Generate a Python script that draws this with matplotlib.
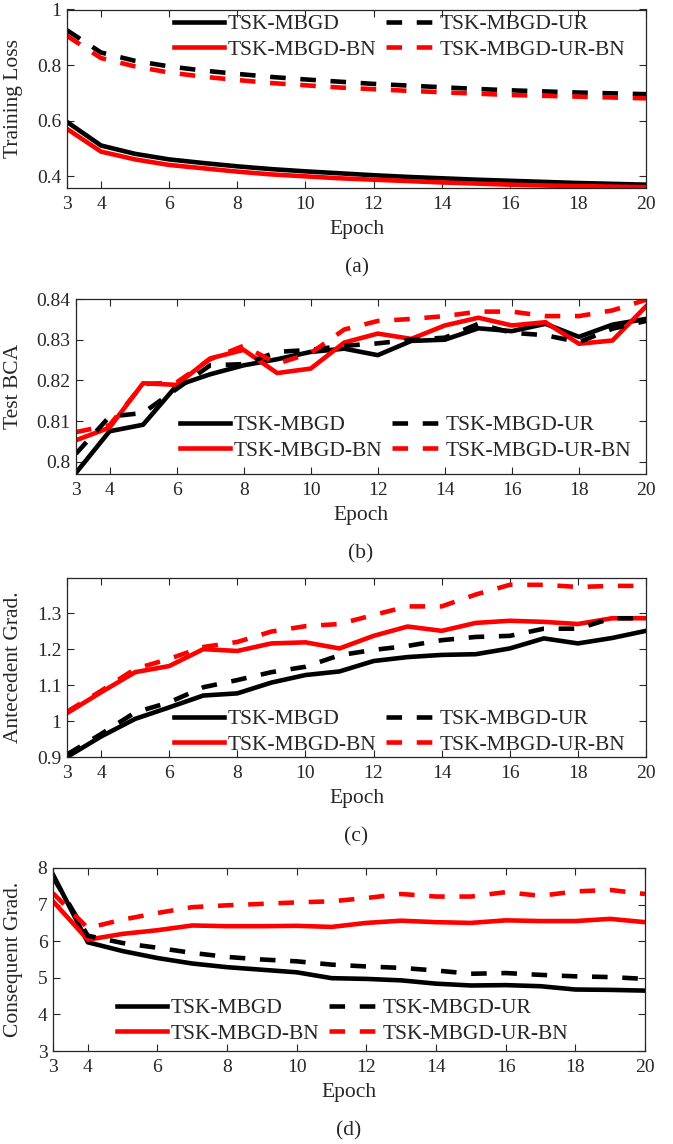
import matplotlib
matplotlib.use('Agg')
import matplotlib.pyplot as plt
import matplotlib.transforms as mtransforms

plt.rcParams['font.family'] = ['Liberation Serif', 'DejaVu Serif']
plt.rcParams['axes.edgecolor'] = '#262626'
plt.rcParams['xtick.color'] = '#262626'
plt.rcParams['ytick.color'] = '#262626'
plt.rcParams['text.color'] = '#262626'
plt.rcParams['axes.labelcolor'] = '#262626'

# Datos
epochs = list(range(3, 21))
labels = ['TSK-MBGD', 'TSK-MBGD-BN', 'TSK-MBGD-UR', 'TSK-MBGD-UR-BN']

# (a) Training loss
loss_mbgd = [0.595, 0.51, 0.48, 0.46, 0.447, 0.435, 0.425, 0.417, 0.41, 0.403,
             0.397, 0.392, 0.387, 0.383, 0.379, 0.375, 0.372, 0.369]
loss_bn = [0.57, 0.488, 0.46, 0.44, 0.428, 0.416, 0.406, 0.399, 0.392, 0.387,
           0.382, 0.377, 0.373, 0.369, 0.366, 0.364, 0.362, 0.36]
loss_ur = [0.925, 0.845, 0.815, 0.795, 0.78, 0.768, 0.757, 0.748, 0.74, 0.732,
           0.726, 0.72, 0.714, 0.709, 0.705, 0.701, 0.698, 0.695]
loss_urbn = [0.905, 0.825, 0.795, 0.773, 0.758, 0.746, 0.735, 0.727, 0.719, 0.713,
             0.707, 0.702, 0.697, 0.692, 0.689, 0.686, 0.683, 0.68]

# (b) Test BCA
bca_mbgd = [0.7973, 0.8075, 0.8091, 0.8187, 0.8215, 0.8237, 0.8252, 0.827, 0.8278, 0.8262,
            0.8297, 0.830, 0.8328, 0.8321, 0.8339, 0.8307, 0.8337, 0.8351]
bca_bn = [0.8053, 0.8084, 0.8193, 0.8189, 0.8254, 0.8275, 0.8218, 0.8229, 0.8293, 0.8315,
          0.8302, 0.8335, 0.8354, 0.8335, 0.8343, 0.829, 0.8298, 0.8382]
bca_ur = [0.802, 0.8111, 0.812, 0.8179, 0.8237, 0.824, 0.827, 0.8275, 0.8285, 0.8291,
          0.830, 0.8305, 0.8339, 0.8317, 0.8311, 0.8294, 0.8327, 0.8346]
bca_urbn = [0.8073, 0.809, 0.8191, 0.8195, 0.8252, 0.8285, 0.8241, 0.8267, 0.8325, 0.8346,
            0.8351, 0.8358, 0.8369, 0.8369, 0.8358, 0.8358, 0.8372, 0.8398]

# (c) Antecedent grad
ant_mbgd = [0.9, 0.957, 1.006, 1.038, 1.071, 1.077, 1.107, 1.128, 1.138, 1.167,
            1.178, 1.184, 1.186, 1.202, 1.23, 1.216, 1.231, 1.251]
ant_bn = [1.022, 1.08, 1.136, 1.153, 1.2, 1.195, 1.216, 1.219, 1.202, 1.237,
          1.263, 1.251, 1.273, 1.279, 1.276, 1.27, 1.286, 1.286]
ant_ur = [0.907, 0.964, 1.024, 1.052, 1.094, 1.114, 1.136, 1.151, 1.183, 1.198,
          1.209, 1.225, 1.234, 1.237, 1.257, 1.257, 1.286, 1.286]
ant_urbn = [1.026, 1.084, 1.145, 1.173, 1.206, 1.22, 1.249, 1.264, 1.27, 1.295,
            1.319, 1.319, 1.352, 1.379, 1.379, 1.373, 1.376, 1.376]

# (d) Consequent grad
con_mbgd = [7.82, 5.97, 5.73, 5.54, 5.39, 5.29, 5.22, 5.15, 4.99, 4.97,
            4.93, 4.84, 4.79, 4.80, 4.77, 4.68, 4.67, 4.65]
con_bn = [7.09, 6.04, 6.20, 6.30, 6.43, 6.41, 6.41, 6.42, 6.39, 6.50,
          6.56, 6.52, 6.50, 6.57, 6.55, 6.55, 6.61, 6.52]
con_ur = [7.75, 6.15, 5.95, 5.82, 5.68, 5.57, 5.50, 5.45, 5.36, 5.31,
          5.27, 5.20, 5.11, 5.13, 5.08, 5.04, 5.02, 4.97]
con_urbn = [7.31, 6.36, 6.59, 6.77, 6.93, 6.98, 7.02, 7.06, 7.09, 7.18,
            7.29, 7.22, 7.22, 7.34, 7.24, 7.36, 7.40, 7.29]

W, H = 673, 1144
fig = plt.figure(figsize=(W / 100, H / 100), dpi=100)

# caja (izq, der, arriba, abajo) en pixeles; leyenda (x, arriba)
paneles = [
    dict(box=(67, 646, 9.5, 188), data=(loss_mbgd, loss_bn, loss_ur, loss_urbn),
         ylim=(0.357, 1.0), yticks=[0.4, 0.6, 0.8, 1.0], ytl=['0.4', '0.6', '0.8', '1'],
         ylabel='Training Loss', leg=(174, 14), cap='(a)'),
    dict(box=(76, 646, 299, 474), data=(bca_mbgd, bca_bn, bca_ur, bca_urbn),
         ylim=(0.797, 0.84), yticks=[0.8, 0.81, 0.82, 0.83, 0.84],
         ytl=['0.8', '0.81', '0.82', '0.83', '0.84'],
         ylabel='Test BCA', leg=(180, 415), cap='(b)'),
    dict(box=(67, 646, 578, 757), data=(ant_mbgd, ant_bn, ant_ur, ant_urbn),
         ylim=(0.9, 1.398), yticks=[0.9, 1.0, 1.1, 1.2, 1.3],
         ytl=['0.9', '1', '1.1', '1.2', '1.3'],
         ylabel='Antecedent Grad.', leg=(174, 709), cap='(c)'),
    dict(box=(53, 645, 868, 1051), data=(con_mbgd, con_bn, con_ur, con_urbn),
         ylim=(3, 8), yticks=[3, 4, 5, 6, 7, 8], ytl=['3', '4', '5', '6', '7', '8'],
         ylabel='Consequent Grad.', leg=(117, 998), cap='(d)'),
]

colores = ['black', 'red', 'black', 'red']
estilos = ['-', '-', (0, (3.4, 3.2)), (0, (3.4, 3.2))]

for p in paneles:
    l, r, t, b = p['box']
    ax = fig.add_axes([l / W, 1 - b / H, (r - l) / W, (b - t) / H])
    lineas = []
    for serie, c, ls, lab in zip(p['data'], colores, estilos, labels):
        ln, = ax.plot(epochs, serie, color=c, linestyle=ls, linewidth=3.3, label=lab)
        lineas.append(ln)
    ax.set_xlim(3, 20)
    ax.set_ylim(*p['ylim'])
    ax.set_xticks([3, 4, 6, 8, 10, 12, 14, 16, 18, 20])
    ax.set_yticks(p['yticks'])
    ax.set_yticklabels(p['ytl'])
    ax.tick_params(direction='in', top=True, right=True, length=5, width=0.8,
                   labelsize=14)
    ax.tick_params(axis='x', pad=6)
    ax.tick_params(axis='y', pad=4)
    for s in ax.spines.values():
        s.set_linewidth(0.9)
    ax.set_xlabel('Epoch', fontsize=15.5, labelpad=5)
    ax.set_ylabel(p['ylabel'], fontsize=15.5)
    trans = mtransforms.blended_transform_factory(fig.transFigure, ax.transAxes)
    ax.yaxis.set_label_coords(23 / W, 0.5, transform=trans)
    lx, lt = p['leg']
    ax.legend(lineas, labels, ncol=2, frameon=False, fontsize=15.5,
              loc='upper left', bbox_to_anchor=(lx / W, 1 - lt / H),
              bbox_transform=fig.transFigure, borderpad=0, borderaxespad=0,
              handlelength=2.3, handletextpad=0.2, columnspacing=0.45,
              labelspacing=0.25)
    fig.text((l + r) / 2 / W, 1 - (b + 80) / H, p['cap'], ha='center', va='center',
             fontsize=15.5)

fig.savefig('out.png', dpi=100)
